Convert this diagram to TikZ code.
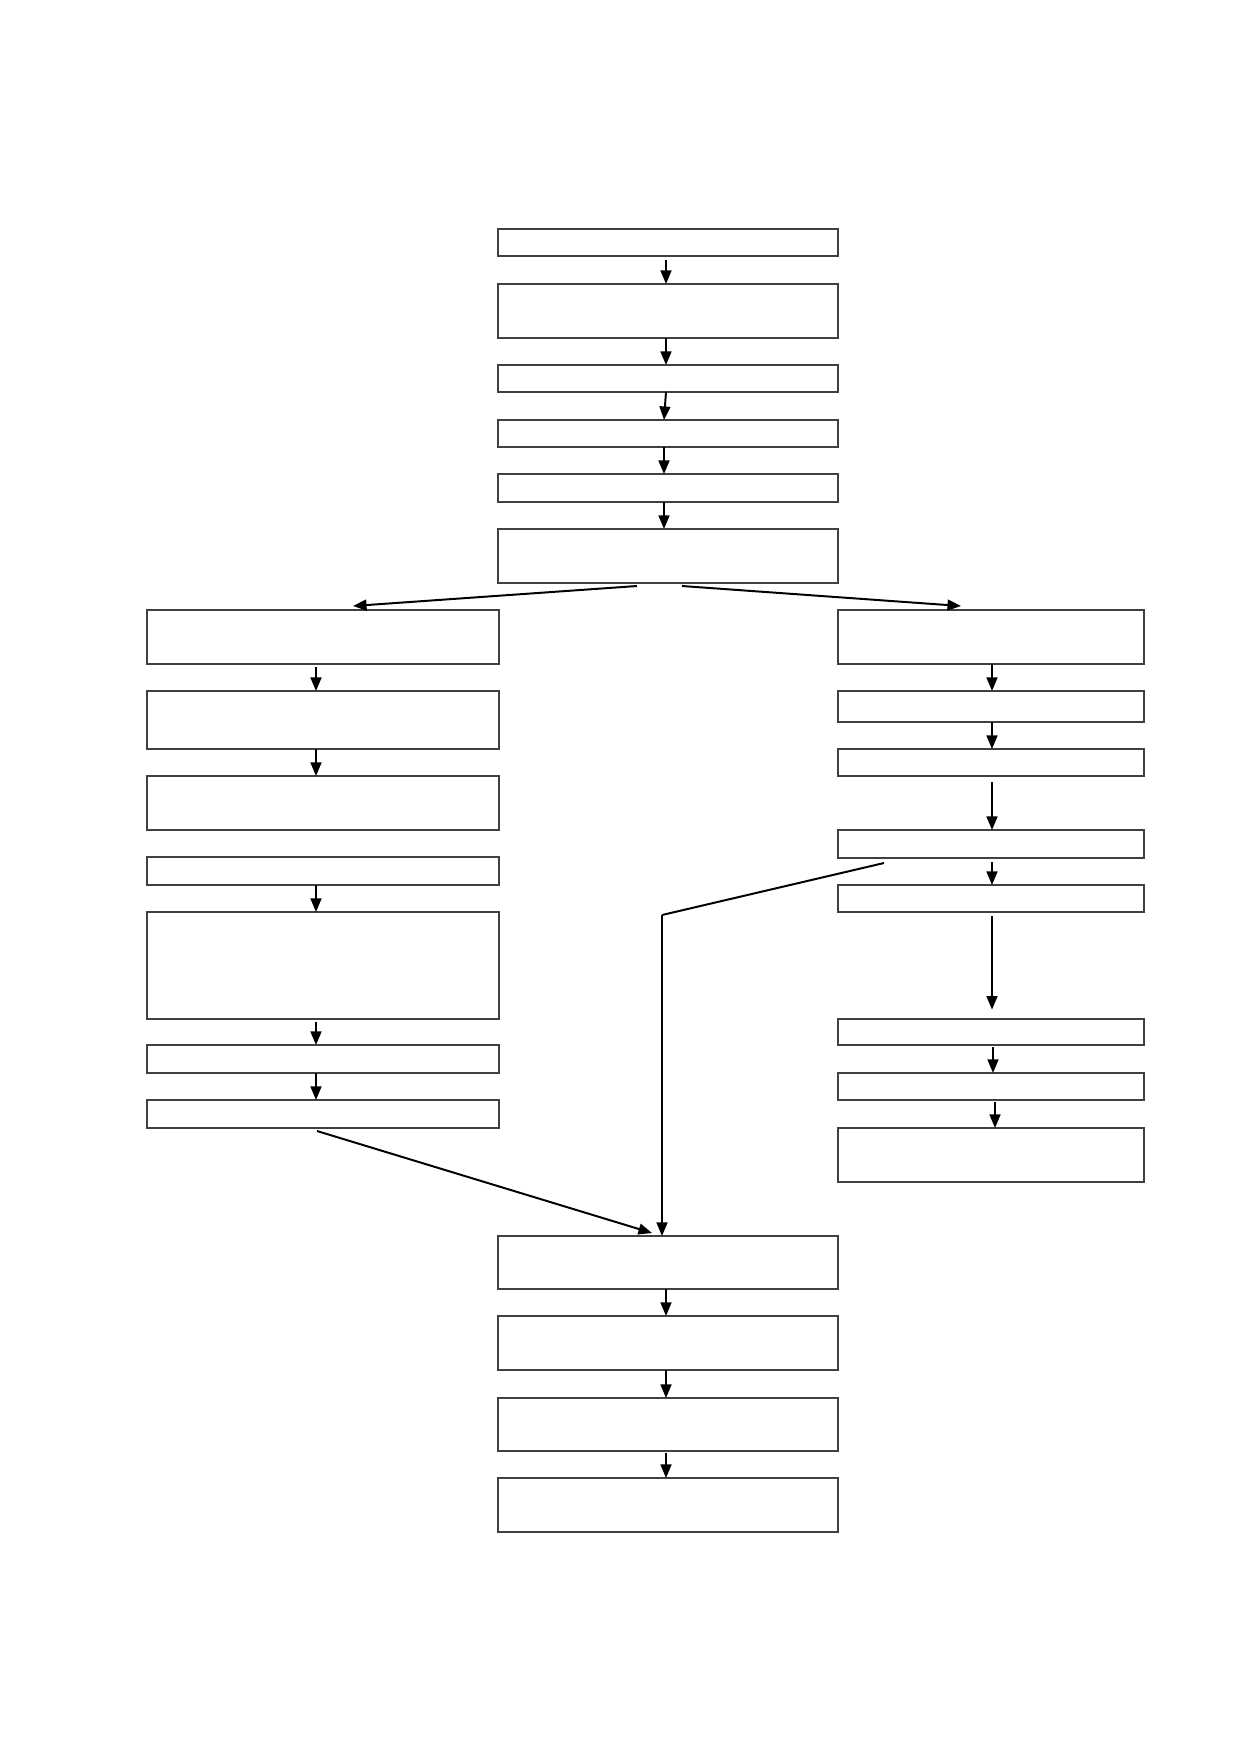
\documentclass[tikz,border=0pt]{standalone}
\usetikzlibrary{arrows.meta}
\begin{document}
\begin{tikzpicture}[x=0.48pt,y=-0.48pt,
  box/.style={draw=black!75,line width=0.5pt,inner sep=0pt,outer sep=0pt,fill=white},
  arr/.style={draw=black,line width=0.95pt,-{Triangle[length=6.5pt,width=5.2pt]}},
  ln/.style={draw=black,line width=0.95pt}]
\useasboundingbox (0,0) rectangle (1240,1754);
\newcommand\bx[5]{\node[box,minimum width={(#4-#2)*0.48pt},minimum height={(#5-#3)*0.48pt}] (#1) at ({(#2+#4)/2},{(#3+#5)/2}) {};}
% centre column
\bx{c1}{498}{229}{838}{256}
\bx{c2}{498}{284}{838}{338}
\bx{c3}{498}{365}{838}{392}
\bx{c4}{498}{420}{838}{447}
\bx{c5}{498}{474}{838}{502}
\bx{c6}{498}{529}{838}{583}
% left column
\bx{l1}{147}{610}{499}{664}
\bx{l2}{147}{691}{499}{749}
\bx{l3}{147}{776}{499}{830}
\bx{l4}{147}{857}{499}{885}
\bx{l5}{147}{912}{499}{1019}
\bx{l6}{147}{1045}{499}{1073}
\bx{l7}{147}{1100}{499}{1128}
% right column
\bx{r1}{838}{610}{1144}{664}
\bx{r2}{838}{691}{1144}{722}
\bx{r3}{838}{749}{1144}{776}
\bx{r4}{838}{830}{1144}{858}
\bx{r5}{838}{885}{1144}{912}
\bx{r6}{838}{1019}{1144}{1045}
\bx{r7}{838}{1073}{1144}{1100}
\bx{r8}{838}{1128}{1144}{1182}
% bottom column
\bx{b1}{498}{1236}{838}{1289}
\bx{b2}{498}{1316}{838}{1370}
\bx{b3}{498}{1398}{838}{1451}
\bx{b4}{498}{1478}{838}{1532}
% x positions of connectors
\coordinate (xc) at (666,0);
\coordinate (xc2) at (664,0);
\coordinate (xl) at (316,0);
\coordinate (xr) at (992,0);
\coordinate (xr1) at (993,0);
\coordinate (xr2) at (995,0);
\coordinate (xv) at (662,0);
% centre arrows
\draw[arr,shorten <=2pt] (c1.south -| xc) -- (c2.north -| xc);
\draw[arr] (c2.south -| xc) -- (c3.north -| xc);
\draw[arr] (c3.south -| xc) -- (c4.north -| xc2);
\draw[arr] (c4.south -| xc2) -- (c5.north -| xc2);
\draw[arr] (c5.south -| xc2) -- (c6.north -| xc2);
% branches
\coordinate (bl0) at (637,586);
\coordinate (bl1) at (353,606);
\coordinate (br0) at (682,586);
\coordinate (br1) at (961,606);
\draw[arr] (bl0) -- (bl1);
\draw[arr] (br0) -- (br1);
% left arrows
\draw[arr,shorten <=1.5pt] (l1.south -| xl) -- (l2.north -| xl);
\draw[arr] (l2.south -| xl) -- (l3.north -| xl);
\draw[arr] (l4.south -| xl) -- (l5.north -| xl);
\draw[arr,shorten <=1.5pt] (l5.south -| xl) -- (l6.north -| xl);
\draw[arr] (l6.south -| xl) -- (l7.north -| xl);
% right arrows
\draw[arr] (r1.south -| xr) -- (r2.north -| xr);
\draw[arr] (r2.south -| xr) -- (r3.north -| xr);
\draw[arr,shorten <=3pt] (r3.south -| xr) -- (r4.north -| xr);
\draw[arr,shorten <=2pt] (r4.south -| xr) -- (r5.north -| xr);
\draw[arr,shorten <=2pt,shorten >=4.5pt] (r5.south -| xr) -- (r6.north -| xr);
\draw[arr,shorten <=1pt] (r6.south -| xr1) -- (r7.north -| xr1);
\draw[arr,shorten <=1pt] (r7.south -| xr2) -- (r8.north -| xr2);
% long connectors to b1
\coordinate (s4) at (884,863);
\coordinate (k1) at (662,915);
\draw[ln] (s4) -- (k1);
\draw[arr] (k1) -- (b1.north -| xv);
\coordinate (s7) at (317,1131);
\coordinate (e7) at (652,1233);
\draw[arr] (s7) -- (e7);
% bottom arrows
\draw[arr] (b1.south -| xc) -- (b2.north -| xc);
\draw[arr] (b2.south -| xc) -- (b3.north -| xc);
\draw[arr,shorten <=1pt] (b3.south -| xc) -- (b4.north -| xc);
\end{tikzpicture}
\end{document}
